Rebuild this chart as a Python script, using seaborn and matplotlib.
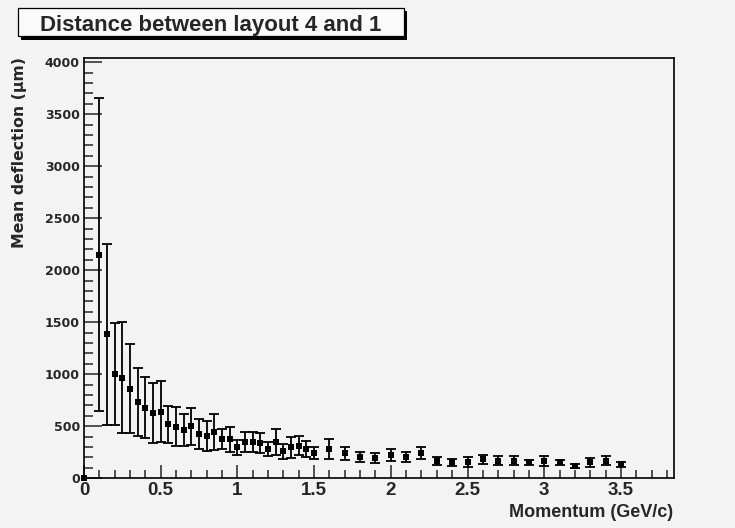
import numpy as np
import pandas as pd
import matplotlib
matplotlib.use("Agg")
import matplotlib.pyplot as plt
from matplotlib.patches import Rectangle
from matplotlib.ticker import MultipleLocator
import seaborn as sns

# ---- data ----
momentum = [0.00, 0.10, 0.15, 0.20, 0.25, 0.30, 0.35, 0.40, 0.45, 0.50,
            0.55, 0.60, 0.65, 0.70, 0.75, 0.80, 0.85, 0.90, 0.95, 1.00,
            1.05, 1.10, 1.15, 1.20, 1.25, 1.30, 1.35, 1.40, 1.45, 1.50,
            1.60, 1.70, 1.80, 1.90, 2.00, 2.10, 2.20, 2.30, 2.40, 2.50,
            2.60, 2.70, 2.80, 2.90, 3.00, 3.10, 3.20, 3.30, 3.40, 3.50]
deflection = [0, 2150, 1385, 1003, 967, 859, 734, 679, 625, 641,
              518, 498, 462, 500, 428, 407, 445, 375, 375, 298,
              352, 352, 336, 282, 352, 260, 298, 314, 282, 243,
              280, 240, 202, 192, 224, 208, 240, 169, 154, 160,
              183, 169, 169, 154, 169, 154, 118, 154, 169, 135]
error = [0, 1505, 870, 490, 535, 428, 325, 292, 288, 293,
         180, 190, 153, 180, 146, 141, 170, 96, 118, 74,
         95, 95, 97, 70, 126, 70, 102, 92, 75, 59,
         97, 65, 48, 48, 55, 48, 58, 37, 34, 48,
         45, 43, 43, 23, 50, 23, 20, 42, 43, 23]

title = "Distance between layout 4 and 1"
xlabel = "Momentum (GeV/c)"
ylabel = "Mean deflection (\u03bcm)"
xticks = [0, 0.5, 1, 1.5, 2, 2.5, 3, 3.5]
xticklabels = ["0", "0.5", "1", "1.5", "2", "2.5", "3", "3.5"]
yticks = [0, 500, 1000, 1500, 2000, 2500, 3000, 3500, 4000]

df = pd.DataFrame({"momentum": momentum, "deflection": deflection, "error": error})

sns.set_style("ticks")
bg = "#f3f3f3"
plt.rcParams["font.family"] = ["Liberation Sans", "DejaVu Sans"]

W, H = 735, 528
fig = plt.figure(figsize=(W / 100, H / 100), dpi=100, facecolor=bg)
ax = fig.add_axes([84 / W, (H - 478.3) / H, (674 - 84) / W, (478.3 - 58.3) / H])
ax.set_facecolor(bg)

err_df = df[df["error"] > 0]
ax.errorbar(err_df["momentum"], err_df["deflection"], yerr=err_df["error"],
            fmt="none", ecolor="black", elinewidth=1.3, capsize=3.6,
            capthick=1.3, zorder=2)
sns.scatterplot(data=df, x="momentum", y="deflection", marker="s", color="black",
                s=20, linewidth=0, ax=ax, zorder=3, clip_on=False)

ax.set_xlim(0, 3.846)
ax.set_ylim(0, 4038)
ax.set_xticks(xticks)
ax.set_xticklabels(xticklabels)
ax.set_yticks(yticks)
ax.set_yticklabels([str(v) for v in yticks])
ax.xaxis.set_minor_locator(MultipleLocator(0.1))
ax.yaxis.set_minor_locator(MultipleLocator(100))
ax.set_xlabel("")
ax.set_ylabel("")

for s in ax.spines.values():
    s.set_visible(True)
    s.set_linewidth(1.2)
    s.set_color("black")

ax.tick_params(axis="x", which="major", direction="in", length=9.4, width=1.1,
               pad=3, labelsize=13.5, top=False)
ax.tick_params(axis="x", which="minor", direction="in", length=5.5, width=1.1, top=False)
ax.tick_params(axis="y", which="major", direction="in", length=13, width=1.1,
               pad=3, labelsize=9, right=False)
ax.tick_params(axis="y", which="minor", direction="in", length=6.5, width=1.1, right=False)
for lbl in ax.get_xticklabels():
    lbl.set_fontweight("bold")
for lbl in ax.get_yticklabels():
    lbl.set_fontweight("bold")
    lbl.set_family(["DejaVu Sans"])

# axis titles (ROOT style: at axis ends)
fig.text(673 / W, (H - 516.7) / H, xlabel, ha="right", va="baseline",
         fontsize=13, fontweight="bold")
fig.text(20 / W, (H - 56.7) / H, ylabel, ha="center", va="top", rotation=90,
         fontsize=11.3, fontweight="bold", family=["DejaVu Sans"])

# title box with shadow
fig.patches.append(Rectangle((20.5 / W, (H - 39.5) / H), (407 - 20.5) / W, (39.5 - 11) / H,
                             transform=fig.transFigure, facecolor="black",
                             edgecolor="black", linewidth=0, zorder=1))
fig.patches.append(Rectangle((17.5 / W, (H - 36) / H), (404 - 17.5) / W, (36 - 8.5) / H,
                             transform=fig.transFigure, facecolor="#fafafa",
                             edgecolor="black", linewidth=0.9, zorder=2))
fig.text(211 / W, (H - 30.7) / H, title, ha="center", va="baseline",
         fontsize=16, fontweight="bold", zorder=3)

fig.savefig("out.png", dpi=100, facecolor=bg)
